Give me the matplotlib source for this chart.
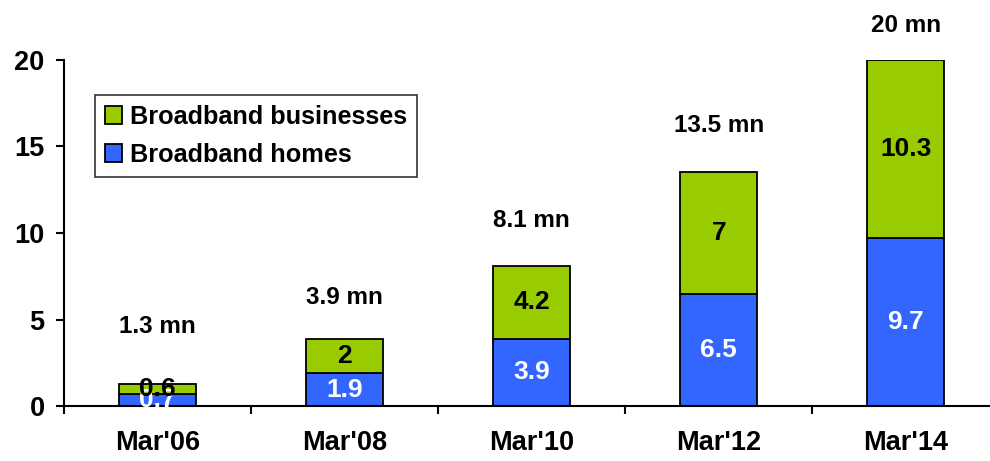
import numpy as np
import matplotlib
matplotlib.use("Agg")
import matplotlib.pyplot as plt
from matplotlib.patches import Patch

plt.rcParams['font.family'] = ['Liberation Sans', 'DejaVu Sans']
plt.rcParams['font.weight'] = 'bold'

# broadband subscriber base, millions
periods = ["Mar'06", "Mar'08", "Mar'10", "Mar'12", "Mar'14"]
homes = [0.7, 1.9, 3.9, 6.5, 9.7]
businesses = [0.6, 2, 4.2, 7, 10.3]
totals = [1.3, 3.9, 8.1, 13.5, 20]
total_labels = ["1.3 mn", "3.9 mn", "8.1 mn", "13.5 mn", "20 mn"]

green = "#99CC00"
blue = "#3366FF"

fig = plt.figure(figsize=(9.9, 4.61), dpi=100)
ax = fig.add_axes([64 / 990, 55 / 461, 926 / 990, 346 / 461])

x = np.arange(len(periods))
w = 0.41
ax.bar(x, homes, w, color=blue, edgecolor="black", linewidth=1.3)
ax.bar(x, businesses, w, bottom=homes, color=green, edgecolor="black", linewidth=1.3)

for i in range(len(periods)):
    ax.text(x[i], homes[i] / 2, f"{homes[i]:g}", ha="center", va="center",
            color="white", fontsize=19, fontweight="bold")
    ax.text(x[i], homes[i] + businesses[i] / 2, f"{businesses[i]:g}",
            ha="center", va="center", color="black", fontsize=19, fontweight="bold")

# total labels sit a little above each stack
lift = [3.3, 2.4, 2.6, 2.7, 2.0]
for i in range(len(periods)):
    ax.text(x[i], totals[i] + lift[i], total_labels[i], ha="center", va="center",
            fontsize=17.5, fontweight="bold", clip_on=False)

ax.set_yticks([0, 5, 10, 15, 20])
ax.set_xticks(x)
ax.set_xticklabels(periods)
ax.set_xticks(np.arange(-0.5, 4, 1), minor=True)
ax.set_xlim(-0.5, 4.45)
ax.set_ylim(0, 20)
ax.tick_params(axis="x", which="major", length=0, pad=17, labelsize=19.5)
ax.tick_params(axis="x", which="minor", length=6, width=1.5, direction="out")
ax.tick_params(axis="y", length=6, width=1.5, labelsize=19.5, pad=8)

for s in ["top", "right"]:
    ax.spines[s].set_visible(False)
for s in ["left", "bottom"]:
    ax.spines[s].set_linewidth(1.5)

handles = [Patch(facecolor=green, edgecolor="black", linewidth=1.3, label="Broadband businesses"),
           Patch(facecolor=blue, edgecolor="black", linewidth=1.3, label="Broadband homes")]
leg = ax.legend(handles=handles, loc="upper left", bbox_to_anchor=(0.033, 0.9),
                fontsize=18.2, frameon=True, fancybox=False, edgecolor="black",
                handlelength=0.7, handleheight=0.7, handletextpad=0.3,
                borderpad=0.4, labelspacing=0.55, borderaxespad=0)
leg.get_frame().set_linewidth(1.2)
for t in leg.get_texts():
    t.set_fontweight("bold")

fig.savefig("out.png", dpi=100)
